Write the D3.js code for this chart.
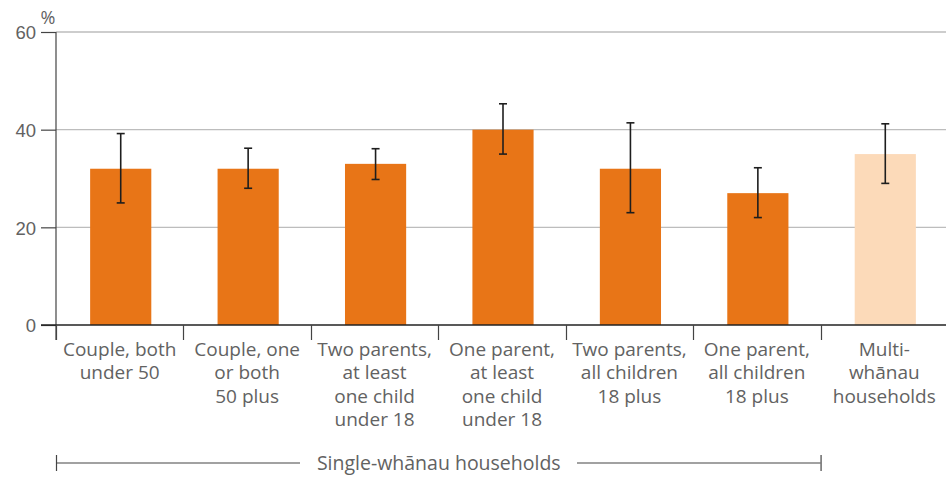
<!DOCTYPE html>
<html>
<head>
<meta charset="utf-8">
<script src="https://cdn.jsdelivr.net/npm/d3@7"></script>
<style>
  html, body { margin: 0; padding: 0; background: #fff; }
  svg { display: block; font-family: "Open Sans", "Noto Sans", sans-serif; }
</style>
</head>
<body>
<svg id="chart" width="946" height="477"></svg>
<script>
// Household types (multi-line labels) and their estimates with 95% intervals
const categories = [
  ["Couple, both", "under 50"],
  ["Couple, one", "or both", "50 plus"],
  ["Two parents,", "at least", "one child", "under 18"],
  ["One parent,", "at least", "one child", "under 18"],
  ["Two parents,", "all children", "18 plus"],
  ["One parent,", "all children", "18 plus"],
  ["Multi-", "whānau", "households"]
];
const values = [32, 32, 33, 40, 32, 27, 35];
const lower  = [25, 28, 29.8, 35, 23, 22, 29];
const upper  = [39.2, 36.2, 36.1, 45.3, 41.4, 32.2, 41.2];
const multi  = [false, false, false, false, false, false, true];
const yTicks = [0, 20, 40, 60];
const groupLabel = "Single-whānau households";

const svg = d3.select("#chart");
const plotLeft = 56, plotRight = 948, plotTop = 32, plotBottom = 325;

const keys = categories.map((c, i) => i);
const x = d3.scaleBand().domain(keys).range([plotLeft, plotRight]).padding(0);
const y = d3.scaleLinear().domain([0, 60]).range([plotBottom, plotTop]);
const barW = x.bandwidth() * 0.48;
const cx = i => x(i) + x.bandwidth() / 2 + 1;

const textCol = "#626262";

// Gridlines
svg.append("g").selectAll("line").data(yTicks.filter(t => t > 0)).join("line")
  .attr("x1", plotLeft).attr("x2", 946)
  .attr("y1", d => y(d)).attr("y2", d => y(d))
  .attr("stroke", "#bdbdbd").attr("stroke-width", 1.3);

// Y axis
const yAxis = svg.append("g").attr("transform", `translate(${plotLeft},0)`)
  .call(d3.axisLeft(y).tickValues(yTicks).tickSize(15).tickPadding(5));
yAxis.select(".domain").remove();
yAxis.selectAll(".tick line").attr("stroke", "#444").attr("stroke-width", 1.2);
yAxis.selectAll(".tick text").attr("fill", textCol)
  .style("font-size", "18.5px").attr("dy", "0.36em");

svg.append("line").attr("x1", plotLeft).attr("x2", plotLeft)
  .attr("y1", plotTop).attr("y2", plotBottom + 15)
  .attr("stroke", "#444").attr("stroke-width", 1.2);

svg.append("text").attr("x", 48).attr("y", 24)
  .attr("text-anchor", "middle").attr("fill", textCol)
  .style("font-size", "18px").text("%");

// Bars
svg.append("g").selectAll("rect").data(keys).join("rect")
  .attr("x", i => cx(i) - barW / 2)
  .attr("width", barW)
  .attr("y", i => y(values[i]))
  .attr("height", i => y(0) - y(values[i]))
  .attr("fill", i => multi[i] ? "#fcdab9" : "#e87517");

// Baseline
svg.append("line").attr("x1", 41).attr("x2", 946)
  .attr("y1", plotBottom).attr("y2", plotBottom)
  .attr("stroke", "#222").attr("stroke-width", 1.3);

// Category separators
svg.append("g").selectAll("line").data(keys).join("line")
  .attr("x1", i => Math.round(x(i)) + 0.5).attr("x2", i => Math.round(x(i)) + 0.5)
  .attr("y1", plotBottom).attr("y2", plotBottom + 15)
  .attr("stroke", "#444").attr("stroke-width", 1.2);

// Error bars
const eb = svg.append("g").attr("stroke", "#1e1e1e").attr("stroke-width", 1.6);
keys.forEach(i => {
  eb.append("line").attr("x1", cx(i)).attr("x2", cx(i))
    .attr("y1", y(upper[i])).attr("y2", y(lower[i]));
  [upper[i], lower[i]].forEach(v => {
    eb.append("line").attr("x1", cx(i) - 4).attr("x2", cx(i) + 4)
      .attr("y1", y(v)).attr("y2", y(v));
  });
});

// Category labels
const lbl = svg.append("g").attr("fill", textCol).style("font-size", "19px")
  .attr("text-anchor", "middle");
keys.forEach(i => {
  const t = lbl.append("text").attr("x", cx(i) - 1).attr("y", 355.5);
  categories[i].forEach((line, k) => {
    t.append("tspan").attr("x", cx(i) - 1).attr("dy", k === 0 ? 0 : 23.5).text(line);
  });
});

// Group bracket for single-whānau households
const gx0 = x(0), gx1 = x(6);
const gy = 463;
const br = svg.append("g").attr("stroke", "#444").attr("stroke-width", 1.2);
br.append("line").attr("x1", gx0).attr("x2", 300).attr("y1", gy).attr("y2", gy);
br.append("line").attr("x1", 577).attr("x2", gx1).attr("y1", gy).attr("y2", gy);
br.append("line").attr("x1", gx0 + 0.5).attr("x2", gx0 + 0.5).attr("y1", gy - 8).attr("y2", gy + 8);
br.append("line").attr("x1", gx1 + 0.5).attr("x2", gx1 + 0.5).attr("y1", gy - 8).attr("y2", gy + 8);
svg.append("text").attr("x", (gx0 + gx1) / 2 + 0.5).attr("y", 469.5)
  .attr("text-anchor", "middle").attr("fill", textCol)
  .style("font-size", "19.5px").text(groupLabel);
</script>
</body>
</html>
